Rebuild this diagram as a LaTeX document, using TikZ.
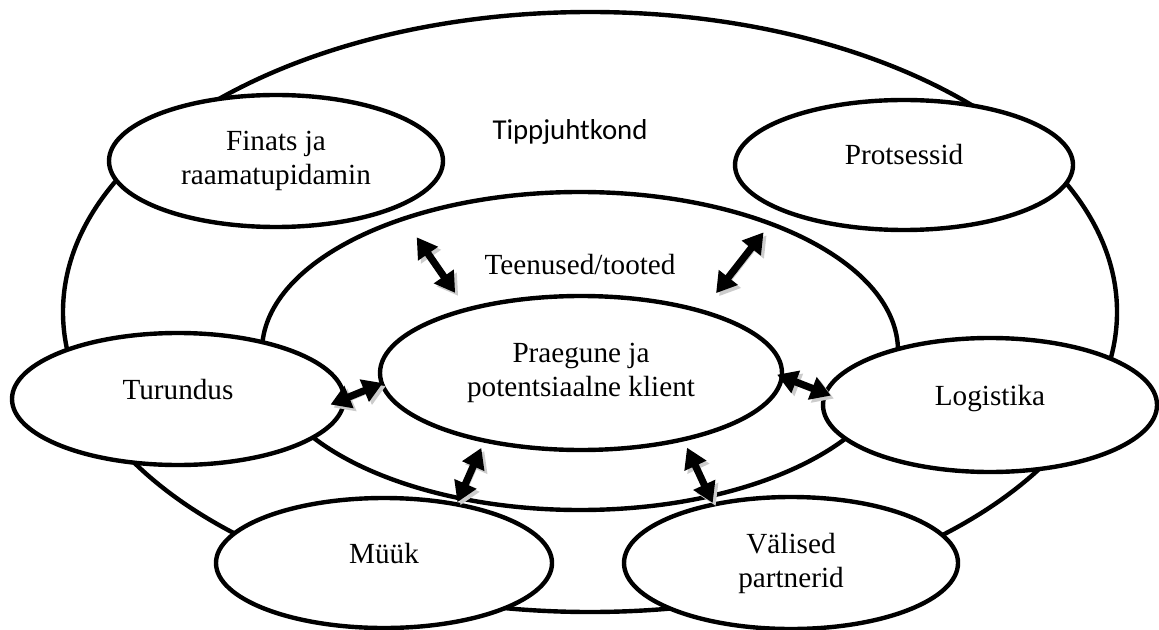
\documentclass[tikz,border=0pt]{standalone}
\usepackage{fontspec}
\setmainfont{Liberation Serif}
\newfontfamily\calibri{Carlito}
\usetikzlibrary{shapes.geometric,arrows.meta}

\tikzset{
  oval/.style={draw, ellipse, line width=2.2pt, fill=white, inner sep=0pt, outer sep=0pt,
    align=center, font=\fontsize{14.6}{17}\selectfont},
  oneline/.style={text height=0.5em, text depth=0.5em},
  twoway/.style={{Triangle[length=10pt,width=11.5pt]}-{Triangle[length=10pt,width=11.5pt]}, line width=3.6pt,
    preaction={draw=black!20, transform canvas={shift={(1.5pt,-1.5pt)}}}},
}

\begin{document}
\begin{tikzpicture}[x=0.5pt,y=-0.5pt]
		\useasboundingbox (0,0) rectangle (1159,630);
		% rings
		\node[oval, minimum width=527pt, minimum height=300pt] (tip) at (590,312) {};
		\node[oval, minimum width=318pt, minimum height=159pt] (ten) at (580,351) {};
		\node[oval, minimum width=201pt, minimum height=77pt] (kli) at (581,373) {Praegune ja\\potentsiaalne klient};
		\node[font=\calibri\fontsize{14.4}{17}\selectfont, anchor=base] (tiptxt) at (570,140) {Tippjuhtkond};
		\node[font=\fontsize{14.6}{17}\selectfont, anchor=base] (tentxt) at (580,275) {Teenused/tooted};
		% parts
		\node[oval, minimum width=167pt, minimum height=66pt] (fin) at (276,161) {Finats ja\\raamatupidamin};
		\node[oval, oneline, minimum width=169pt, minimum height=65pt] (pro) at (904,165) {Protsessid};
		\node[oval, oneline, minimum width=166pt, minimum height=66pt] (tur) at (178,399) {Turundus};
		\node[oval, oneline, minimum width=167pt, minimum height=67pt] (log) at (990,405) {Logistika};
		\node[oval, oneline, minimum width=168pt, minimum height=65pt] (myy) at (384,563) {Müük};
		\node[oval, minimum width=167pt, minimum height=66pt] (val) at (791,563) {Välised\\partnerid};
		% links
		\draw[twoway, shorten <=18.4pt, shorten >=10.2pt] (fin.-21.7) -- (kli.151);
		\draw[twoway, shorten <=14.4pt, shorten >=11.6pt] (pro.200.6) -- (kli.27.4);
		\draw[twoway, shorten <=-7.3pt, shorten >=-0.5pt] (tur.0.4) -- (kli.183.2);
		\draw[twoway, shorten <=-2.5pt, shorten >=-2.9pt] (kli.-1.1) -- (log.176.8);
		\draw[twoway, shorten <=4pt, shorten >=1.2pt] (kli.215.4) -- (myy.39.3);
		\draw[twoway, shorten <=4.6pt, shorten >=0.9pt] (kli.-33.8) -- (val.143.3);
\end{tikzpicture}
\end{document}
